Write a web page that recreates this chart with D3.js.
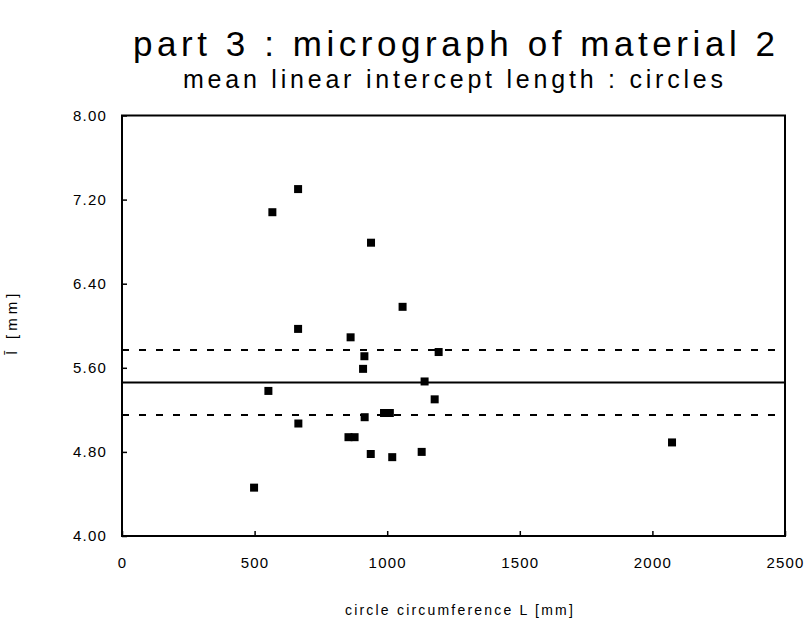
<!DOCTYPE html>
<html>
<head>
<meta charset="utf-8">
<script src="https://cdn.jsdelivr.net/npm/d3@7"></script>
<style>
  html, body { margin: 0; padding: 0; background: #fff; }
  svg { display: block; }
  text { font-family: "Liberation Sans", Arial, Helvetica, sans-serif; fill: #000; }
</style>
</head>
<body>
<svg id="chart" width="810" height="631"></svg>
<script>
// Circle circumference L [mm] for each measured circle
const circumference = [567, 664, 939, 1058, 664, 862, 914, 1194, 909, 1141, 552, 1179,
                       915, 988, 1010, 665, 854, 877, 938, 1019, 1130, 2074, 498];
// Mean linear intercept length [mm] measured on each circle
const interceptLength = [7.08, 7.30, 6.79, 6.18, 5.97, 5.89, 5.71, 5.75, 5.59, 5.47, 5.38, 5.30,
                         5.13, 5.17, 5.17, 5.07, 4.94, 4.94, 4.78, 4.75, 4.80, 4.89, 4.46];
// Overall mean and the band of one standard deviation around it
const meanLevel = [5.46];
const bandLevels = [5.77, 5.15];

const xTicks = [0, 500, 1000, 1500, 2000, 2500];
const yTicks = [4.00, 4.80, 5.60, 6.40, 7.20, 8.00];
const xDomain = [0, 2500];
const yDomain = [4, 8];

const titleText = "part 3 : micrograph of material 2";
const subtitleText = "mean linear intercept length : circles";
const xLabel = "circle circumference L [mm]";
const yLabel = "l\u0304 [mm]";

const W = 810, H = 631;
const margin = { top: 115.5, right: 25, bottom: 95, left: 122 };
const iw = W - margin.left - margin.right;
const ih = H - margin.top - margin.bottom;

const svg = d3.select("#chart");
const g = svg.append("g").attr("transform", `translate(${margin.left},${margin.top})`);

const x = d3.scaleLinear().domain(xDomain).range([0, iw]);
const y = d3.scaleLinear().domain(yDomain).range([ih, 0]);

// Titles
svg.append("text")
  .attr("x", 454).attr("y", 56)
  .attr("text-anchor", "middle")
  .attr("font-size", 35)
  .attr("textLength", 642).attr("lengthAdjust", "spacing")
  .text(titleText);
svg.append("text")
  .attr("x", 453).attr("y", 88)
  .attr("text-anchor", "middle")
  .attr("font-size", 25)
  .attr("textLength", 540).attr("lengthAdjust", "spacing")
  .text(subtitleText);

// Horizontal reference lines: mean (solid) and band (dashed)
g.selectAll("line.mean").data(meanLevel).join("line")
  .attr("class", "mean")
  .attr("x1", 0).attr("x2", iw)
  .attr("y1", d => y(d)).attr("y2", d => y(d))
  .attr("stroke", "#000").attr("stroke-width", 2);
g.selectAll("line.band").data(bandLevels).join("line")
  .attr("class", "band")
  .attr("x1", 0).attr("x2", iw)
  .attr("y1", d => y(d)).attr("y2", d => y(d))
  .attr("stroke", "#000").attr("stroke-width", 2)
  .attr("stroke-dasharray", "7,10");

// Axes with inward ticks
const fmtY = d3.format(".2f");
const yAxis = g.append("g")
  .call(d3.axisLeft(y).tickValues(yTicks).tickFormat(fmtY).tickSizeInner(-5).tickSizeOuter(0).tickPadding(15));
const xAxis = g.append("g")
  .attr("transform", `translate(0,${ih})`)
  .call(d3.axisBottom(x).tickValues(xTicks).tickFormat(d3.format("d")).tickSizeInner(-5).tickSizeOuter(0).tickPadding(21));

[yAxis, xAxis].forEach(a => {
  a.select(".domain").remove();
  a.selectAll("line").attr("stroke", "#000").attr("stroke-width", 1.5);
  a.selectAll("text")
    .attr("font-family", "'Liberation Sans', Arial, sans-serif")
    .attr("font-size", 15)
    .attr("letter-spacing", 1.2)
    .attr("fill", "#000");
});

// Plot frame
g.append("rect")
  .attr("x", 0).attr("y", 0).attr("width", iw).attr("height", ih)
  .attr("fill", "none").attr("stroke", "#000").attr("stroke-width", 2);

// Data markers: filled squares
const pts = circumference.map((c, i) => ({ c, l: interceptLength[i] }));
const s = 8;
g.selectAll("rect.pt").data(pts).join("rect")
  .attr("class", "pt")
  .attr("x", d => x(d.c) - s / 2)
  .attr("y", d => y(d.l) - s / 2)
  .attr("width", s).attr("height", s)
  .attr("fill", "#000");

// Axis titles
svg.append("text")
  .attr("x", 460).attr("y", 615)
  .attr("text-anchor", "middle")
  .attr("font-size", 14)
  .attr("letter-spacing", 2.2)
  .text(xLabel);
svg.append("text")
  .attr("transform", "translate(17,322) rotate(-90)")
  .attr("text-anchor", "middle")
  .attr("font-size", 15)
  .attr("letter-spacing", 4)
  .text(yLabel);
</script>
</body>
</html>
